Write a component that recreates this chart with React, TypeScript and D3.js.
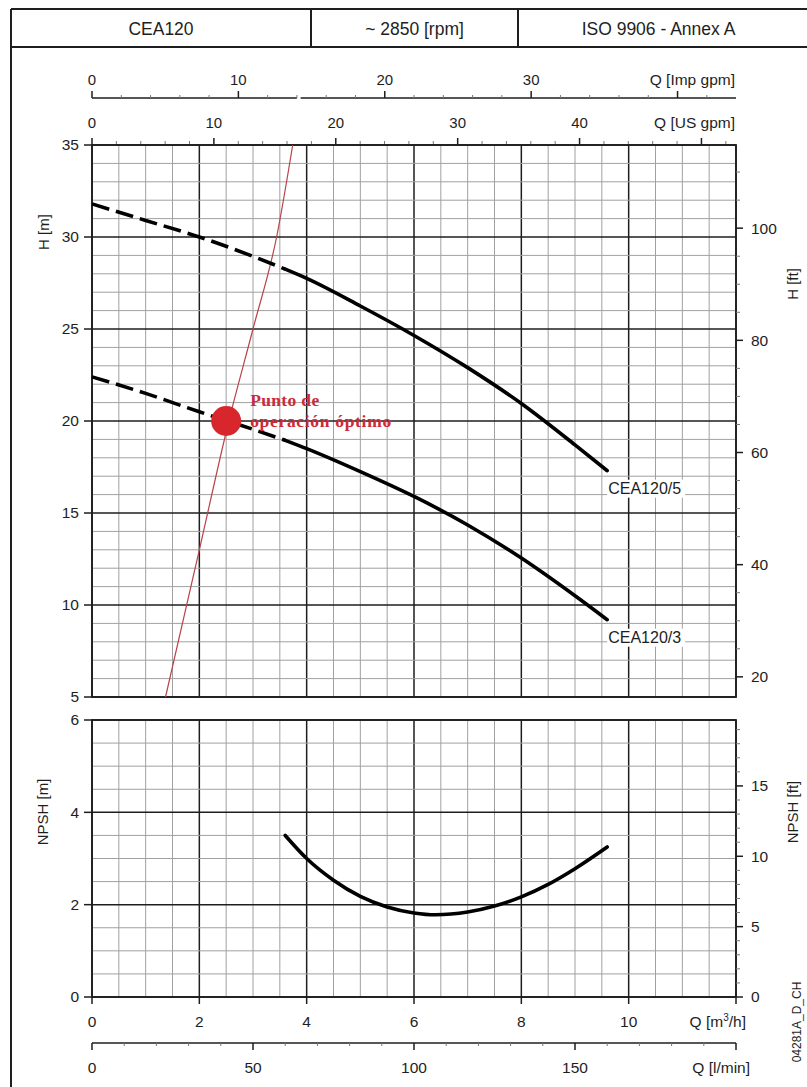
import * as d3 from "d3";

// header
const headerCells = ["CEA120", "~ 2850 [rpm]", "ISO 9906 - Annex A"];

// pump curves, Q in m3/h, H in m
const flow = [0, 1, 2, 3, 3.6, 4, 5, 6, 7, 8, 9, 9.6];
const headCEA5 = [31.8, 30.9, 30.0, 28.95, 28.25, 27.75, 26.25, 24.65, 22.9, 20.95, 18.7, 17.3];
const headCEA3 = [22.4, 21.5, 20.5, 19.55, 18.95, 18.5, 17.25, 15.9, 14.35, 12.55, 10.5, 9.2];
const dashedUntil = 3.6;
const curveNames = ["CEA120/5", "CEA120/3"];

// NPSH curve
const npshFlow = [3.6, 4, 4.5, 5, 5.5, 6, 6.4, 7, 7.5, 8, 8.5, 9, 9.6];
const npshValues = [3.5, 3.0, 2.53, 2.18, 1.95, 1.82, 1.78, 1.84, 1.97, 2.17, 2.44, 2.78, 3.25];

// system curve + duty point
const systemFlow = [1.37, 2.0, 2.55, 3.0, 3.44, 3.74];
const systemHead = [5, 13, 20, 25, 30, 35];
const dutyFlow = 2.5;
const dutyHead = 20;
const dutyText = ["Punto de", "operación óptimo"];

// axis ticks
const m3hTicks = [0, 2, 4, 6, 8, 10, 12];
const m3hLabels = [0, 2, 4, 6, 8, 10];
const lminTicks = [0, 50, 100, 150, 200];
const lminLabels = [0, 50, 100, 150];
const impTicks = [0, 10, 20, 30, 40];
const impLabels = [0, 10, 20, 30];
const usTicks = [0, 10, 20, 30, 40, 50];
const usLabels = [0, 10, 20, 30, 40];
const hLabels = [5, 10, 15, 20, 25, 30, 35];
const hFtLabels = [20, 40, 60, 80, 100];
const npshLabels = [0, 2, 4, 6];
const npshFtLabels = [0, 5, 10, 15];

const FT = 0.3048;
const x = d3.scaleLinear().domain([0, 12]).range([92, 736]);
const yH = d3.scaleLinear().domain([5, 35]).range([697, 145]);
const yN = d3.scaleLinear().domain([0, 6]).range([997, 720]);
const yHft = d3.scaleLinear().domain([5 / FT, 35 / FT]).range([697, 145]);
const yNft = d3.scaleLinear().domain([0, 6 / FT]).range([997, 720]);
const xImp = d3.scaleLinear().domain([0, 12 / 0.272765]).range([92, 736]);
const xUS = d3.scaleLinear().domain([0, 12 / 0.227125]).range([92, 736]);
const xLmin = d3.scaleLinear().domain([0, 200]).range([92, 736]);

const font = "'Liberation Sans', Arial, sans-serif";
const dark = "#1e1e1e";
const minor = "#a0a0a0";

const lineH = d3
  .line<[number, number]>()
  .x((d) => x(d[0]))
  .y((d) => yH(d[1]))
  .curve(d3.curveMonotoneX);
const lineN = d3
  .line<[number, number]>()
  .x((d) => x(d[0]))
  .y((d) => yN(d[1]))
  .curve(d3.curveMonotoneX);

function Grid({ y, vals, majorEvery }) {
  const [top, bottom] = [y.range()[1], y.range()[0]];
  const xs = d3.range(0, 12.001, 0.5);
  return (
    <g>
      {xs.map((q) => (
        <line key={"v" + q} x1={x(q)} x2={x(q)} y1={top} y2={bottom}
          stroke={q % 2 === 0 ? dark : minor} strokeWidth={q % 2 === 0 ? 1.5 : 1} />
      ))}
      {vals.map((v) => (
        <line key={"h" + v} x1={x(0)} x2={x(12)} y1={y(v)} y2={y(v)}
          stroke={v % majorEvery === 0 ? dark : minor} strokeWidth={v % majorEvery === 0 ? 1.5 : 1} />
      ))}
      <rect x={x(0)} y={top} width={x(12) - x(0)} height={bottom - top} fill="none" stroke={dark} strokeWidth={1.8} />
    </g>
  );
}

export default function App() {
  const pts = (hs) => flow.map((q, i) => [q, hs[i]] as [number, number]);
  const curves = [headCEA5, headCEA3];
  const sys = systemFlow.map((q, i) => [q, systemHead[i]] as [number, number]);
  const npsh = npshFlow.map((q, i) => [q, npshValues[i]] as [number, number]);
  const headerX = [11, 311, 518, 807];

  return (
    <svg width={807} height={1087} style={{ position: "absolute", left: 0, top: 0, background: "#fff" }}
      fontFamily={font} fill={dark}>
      <rect width={807} height={1087} fill="#fff" />
      {/* frame + header */}
      <line x1={11} x2={11} y1={9} y2={1087} stroke={dark} strokeWidth={2} />
      <line x1={11} x2={807} y1={9} y2={9} stroke={dark} strokeWidth={2} />
      <line x1={11} x2={807} y1={47} y2={47} stroke={dark} strokeWidth={2} />
      {[311, 518].map((v) => (
        <line key={v} x1={v} x2={v} y1={9} y2={47} stroke={dark} strokeWidth={2} />
      ))}
      {headerCells.map((t, i) => (
        <text key={t} x={(headerX[i] + headerX[i + 1]) / 2 - (i === 2 ? 4 : 0)} y={29} fontSize={17.5}
          textAnchor="middle" dominantBaseline="central">{t}</text>
      ))}

      {/* Imp gpm axis */}
      <line x1={xImp(0)} x2={xImp(14)} y1={98} y2={98} stroke={dark} strokeWidth={1.5} />
      <line x1={xImp(14.25)} x2={x(12)} y1={98} y2={98} stroke={dark} strokeWidth={1.5} />
      {d3.range(0, 44, 2).map((v) => (
        <line key={"im" + v} x1={xImp(v)} x2={xImp(v)} y1={98} y2={impTicks.includes(v) ? 91 : 95}
          stroke={impTicks.includes(v) ? dark : "#777"} strokeWidth={impTicks.includes(v) ? 1.5 : 1} />
      ))}
      {impLabels.map((v) => (
        <text key={"il" + v} x={xImp(v)} y={85} fontSize={15} textAnchor="middle">{v}</text>
      ))}
      <text x={735} y={85} fontSize={15.5} textAnchor="end">Q [Imp gpm]</text>

      {/* US gpm axis */}
      {d3.range(0, 53, 2).map((v) => (
        <line key={"us" + v} x1={xUS(v)} x2={xUS(v)} y1={145} y2={usTicks.includes(v) ? 138 : 141}
          stroke={usTicks.includes(v) ? dark : "#777"} strokeWidth={usTicks.includes(v) ? 1.5 : 1} />
      ))}
      {usLabels.map((v) => (
        <text key={"ul" + v} x={xUS(v)} y={128} fontSize={15} textAnchor="middle">{v}</text>
      ))}
      <text x={735} y={128} fontSize={15.5} textAnchor="end">Q [US gpm]</text>

      {/* grids */}
      <Grid y={yH} vals={d3.range(5, 35.001, 1)} majorEvery={5} />
      <Grid y={yN} vals={d3.range(0, 6.001, 0.5)} majorEvery={2} />

      {/* left axes */}
      {hLabels.map((v) => (
        <g key={"hl" + v}>
          <line x1={84} x2={92} y1={yH(v)} y2={yH(v)} stroke={dark} strokeWidth={1.5} />
          <text x={79} y={yH(v)} dy="0.35em" fontSize={15.5} textAnchor="end">{v}</text>
        </g>
      ))}
      {npshLabels.map((v) => (
        <g key={"nl" + v}>
          <line x1={84} x2={92} y1={yN(v)} y2={yN(v)} stroke={dark} strokeWidth={1.5} />
          <text x={79} y={yN(v)} dy="0.35em" fontSize={15.5} textAnchor="end">{v}</text>
        </g>
      ))}
      <text transform="translate(43,232) rotate(-90)" fontSize={15} textAnchor="middle" dominantBaseline="central">H [m]</text>
      <text transform="translate(42,812) rotate(-90)" fontSize={15} textAnchor="middle" dominantBaseline="central">NPSH [m]</text>

      {/* right axes */}
      {d3.range(20, 115, 5).map((v) => (
        <line key={"hf" + v} x1={736} x2={hFtLabels.includes(v) ? 743 : 740} y1={yHft(v)} y2={yHft(v)}
          stroke={hFtLabels.includes(v) ? dark : "#777"} strokeWidth={hFtLabels.includes(v) ? 1.5 : 1} />
      ))}
      {hFtLabels.map((v) => (
        <text key={"hfl" + v} x={751} y={yHft(v)} dy="0.35em" fontSize={15.5}>{v}</text>
      ))}
      {d3.range(0, 20, 1).map((v) => (
        <line key={"nf" + v} x1={736} x2={npshFtLabels.includes(v) ? 743 : 740} y1={yNft(v)} y2={yNft(v)}
          stroke={npshFtLabels.includes(v) ? dark : "#777"} strokeWidth={npshFtLabels.includes(v) ? 1.5 : 1} />
      ))}
      {npshFtLabels.map((v) => (
        <text key={"nfl" + v} x={751} y={yNft(v)} dy="0.35em" fontSize={15.5}>{v}</text>
      ))}
      <text transform="translate(792,284) rotate(-90)" fontSize={15} textAnchor="middle" dominantBaseline="central">H [ft]</text>
      <text transform="translate(792,812) rotate(-90)" fontSize={15} textAnchor="middle" dominantBaseline="central">NPSH [ft]</text>
      <text transform="translate(797,1022) rotate(-90)" fontSize={12} textAnchor="middle" dominantBaseline="central">04281A_D_CH</text>

      {/* bottom axes */}
      {m3hTicks.map((v) => (
        <line key={"mt" + v} x1={x(v)} x2={x(v)} y1={997} y2={1004} stroke={dark} strokeWidth={1.5} />
      ))}
      {m3hLabels.map((v) => (
        <text key={"ml" + v} x={x(v)} y={1027} fontSize={15.5} textAnchor="middle">{v}</text>
      ))}
      <text x={746} y={1027} fontSize={15.5} textAnchor="end">
        Q [m<tspan dy={-6} fontSize={10}>3</tspan><tspan dy={6}>/h]</tspan>
      </text>
      <line x1={xLmin(0)} x2={xLmin(200)} y1={1043} y2={1043} stroke={dark} strokeWidth={1.5} />
      {d3.range(0, 201, 10).map((v) => (
        <line key={"lt" + v} x1={xLmin(v)} x2={xLmin(v)} y1={1043} y2={lminTicks.includes(v) ? 1050 : 1046}
          stroke={lminTicks.includes(v) ? dark : "#777"} strokeWidth={lminTicks.includes(v) ? 1.5 : 1} />
      ))}
      {lminLabels.map((v) => (
        <text key={"ll" + v} x={xLmin(v)} y={1073} fontSize={15.5} textAnchor="middle">{v}</text>
      ))}
      <text x={750} y={1073} fontSize={15.5} textAnchor="end">Q [l/min]</text>

      {/* system curve */}
      <path d={lineH(sys)} fill="none" stroke="#b8434b" strokeWidth={1.2} />

      {/* pump curves */}
      {curves.map((hs, i) => {
        const p = pts(hs);
        const end = p[p.length - 1];
        return (
          <g key={curveNames[i]}>
            <path d={lineH(p.filter((d) => d[0] <= dashedUntil))} fill="none" stroke="#000"
              strokeWidth={3.6} strokeDasharray="18 7" />
            <path d={lineH(p.filter((d) => d[0] >= dashedUntil))} fill="none" stroke="#000"
              strokeWidth={3.6} strokeLinecap="round" />
            <rect x={x(end[0])} y={yH(end[1]) + 9} width={78} height={18} fill="#fff" />
            <text x={x(end[0]) + 1} y={yH(end[1]) + 23} fontSize={16}>{curveNames[i]}</text>
          </g>
        );
      })}

      {/* NPSH */}
      <path d={lineN(npsh)} fill="none" stroke="#000" strokeWidth={3.6} strokeLinecap="round" />

      {/* duty point */}
      <circle cx={x(dutyFlow)} cy={yH(dutyHead)} r={15} fill="#d8262d" />
      {dutyText.map((t, i) => (
        <text key={t} x={x(dutyFlow) + 24} y={yH(dutyHead) - 15 + i * 21} fontSize={17.5} fontWeight="bold"
          fontFamily="'Liberation Serif', 'Times New Roman', serif" fill="#cc2a38"
          textLength={i === 1 ? 141 : 69}>{t}</text>
      ))}
    </svg>
  );
}
